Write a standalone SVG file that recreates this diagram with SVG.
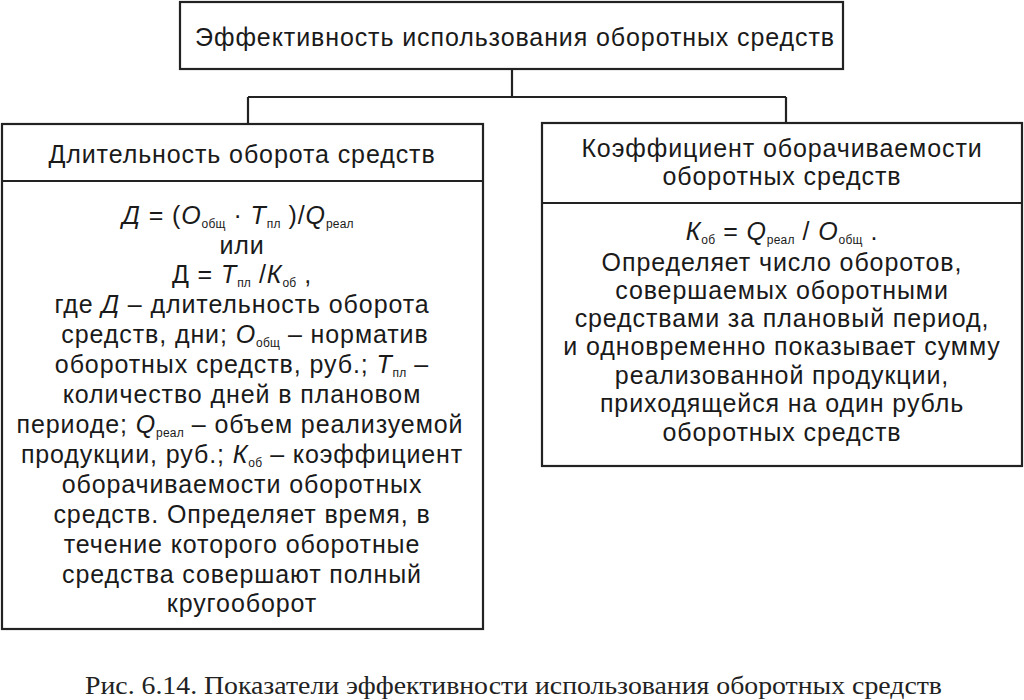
<svg xmlns="http://www.w3.org/2000/svg" width="1024" height="700" viewBox="0 0 1024 700">
<style>
.box{fill:#fff;stroke:#222;stroke-width:2.2}
.ln{fill:none;stroke:#222;stroke-width:2.2}
.t{font-family:"Liberation Sans",Arial,sans-serif;font-size:25px;letter-spacing:0.9px;fill:#1a1a1a;text-anchor:middle}
.i{font-style:italic}
.s{font-size:12px;letter-spacing:0.2px}
.cap{font-family:"Liberation Serif","Times New Roman",serif;font-size:25px;fill:#222}
</style>
<rect width="1024" height="700" fill="#fff"/>
<g id="connectors">
<path class="ln" d="M512 69 V97 M248 97 H786 M248 97 V124 M786 97 V123"/>
</g>
<g id="top">
<rect class="box" x="180" y="2" width="663" height="67"/>
<text class="t" x="515" y="46">Эффективность использования оборотных средств</text>
</g>
<g id="left">
<rect class="box" x="2" y="124" width="481" height="505"/>
<line class="ln" x1="2" y1="181" x2="483" y2="181"/>
<text class="t" x="242" y="163">Длительность оборота средств</text>
<text class="t" x="238" y="224"><tspan class="i">Д</tspan> = (<tspan class="i">О</tspan><tspan class="s" dy="4">общ</tspan><tspan dy="-4"> · </tspan><tspan class="i">Т</tspan><tspan class="s" dy="4">пл</tspan><tspan dy="-4"> )/</tspan><tspan class="i">Q</tspan><tspan class="s" dy="4">реал</tspan></text>
<text class="t" x="242" y="254">или</text>
<text class="t" x="242" y="283">Д = <tspan class="i">Т</tspan><tspan class="s" dy="4">пл</tspan><tspan dy="-4"> /</tspan><tspan class="i">К</tspan><tspan class="s" dy="4">об</tspan><tspan dy="-4"> ,</tspan></text>
<text class="t" x="242" y="313">где <tspan class="i">Д</tspan> – длительность оборота</text>
<text class="t" x="245" y="343">средств, дни; <tspan class="i">О</tspan><tspan class="s" dy="4">общ</tspan><tspan dy="-4"> – норматив</tspan></text>
<text class="t" x="242" y="373">оборотных средств, руб.; <tspan class="i">Т</tspan><tspan class="s" dy="4">пл</tspan><tspan dy="-4"> –</tspan></text>
<text class="t" x="242" y="403">количество дней в плановом</text>
<text class="t" x="240" y="433">периоде; <tspan class="i">Q</tspan><tspan class="s" dy="4">реал</tspan><tspan dy="-4"> – объем реализуемой</tspan></text>
<text class="t" x="242" y="463">продукции, руб.; <tspan class="i">К</tspan><tspan class="s" dy="4">об</tspan><tspan dy="-4"> – коэффициент</tspan></text>
<text class="t" x="242" y="493">оборачиваемости оборотных</text>
<text class="t" x="242" y="523">средств. Определяет время, в</text>
<text class="t" x="242" y="553">течение которого оборотные</text>
<text class="t" x="242" y="583">средства совершают полный</text>
<text class="t" x="242" y="612">кругооборот</text>
</g>
<g id="right">
<rect class="box" x="542" y="123" width="480" height="343"/>
<line class="ln" x1="542" y1="203" x2="1022" y2="203"/>
<text class="t" x="782" y="157">Коэффициент оборачиваемости</text>
<text class="t" x="782" y="185">оборотных средств</text>
<text class="t" x="782" y="240"><tspan class="i">К</tspan><tspan class="s" dy="4">об</tspan><tspan dy="-4"> = </tspan><tspan class="i">Q</tspan><tspan class="s" dy="4">реал</tspan><tspan dy="-4"> / </tspan><tspan class="i">О</tspan><tspan class="s" dy="4">общ</tspan><tspan dy="-4"> .</tspan></text>
<text class="t" x="782" y="271">Определяет число оборотов,</text>
<text class="t" x="782" y="299">совершаемых оборотными</text>
<text class="t" x="782" y="327">средствами за плановый период,</text>
<text class="t" x="782" y="355">и одновременно показывает сумму</text>
<text class="t" x="782" y="384">реализованной продукции,</text>
<text class="t" x="782" y="412">приходящейся на один рубль</text>
<text class="t" x="782" y="441">оборотных средств</text>
</g>
<g id="caption">
<text class="cap" x="85" y="694" textLength="857" lengthAdjust="spacingAndGlyphs">Рис. 6.14. Показатели эффективности использования оборотных средств</text>
</g>
</svg>
